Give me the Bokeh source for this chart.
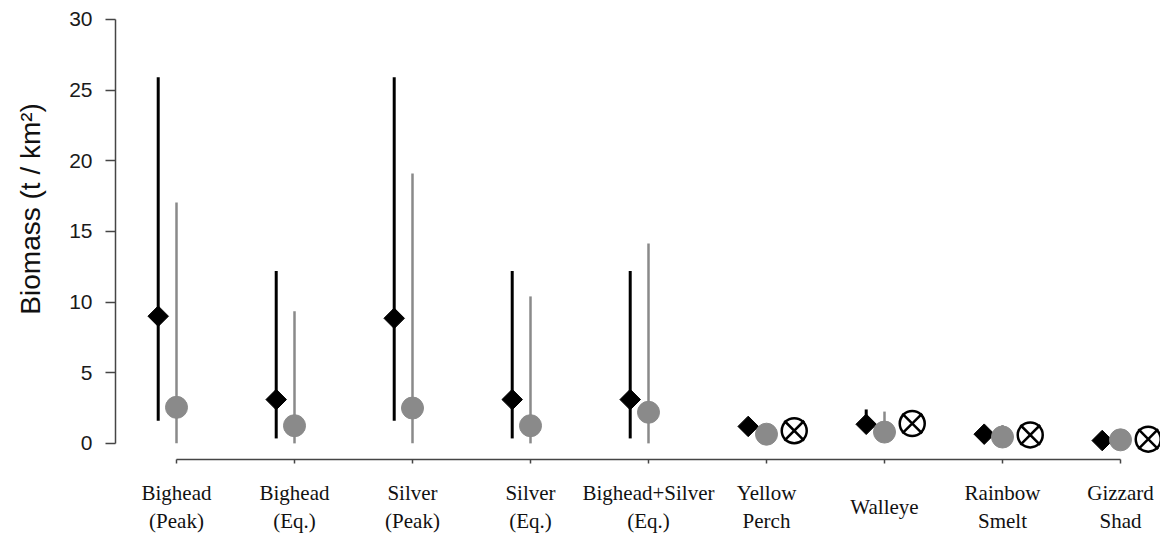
import numpy as np
from bokeh.plotting import figure
from bokeh.models import ColumnDataSource, FixedTicker, Range1d
from bokeh.core.properties import value
from bokeh.transform import dodge
from bokeh.embed import file_html
from bokeh.resources import INLINE

# ---- data ----
categories = ["Bighead (Peak)", "Bighead (Eq.)", "Silver (Peak)", "Silver (Eq.)",
              "Bighead+Silver (Eq.)", "Yellow Perch", "Walleye", "Rainbow Smelt", "Gizzard Shad"]
tick_labels = ["Bighead\n(Peak)", "Bighead\n(Eq.)", "Silver\n(Peak)", "Silver\n(Eq.)",
               "Bighead+Silver\n(Eq.)", "Yellow\nPerch", "Walleye", "Rainbow\nSmelt", "Gizzard\nShad"]

black_val = [9.0, 3.1, 8.85, 3.1, 3.1, 1.2, 1.35, 0.65, 0.2]
black_lo = [1.6, 0.35, 1.6, 0.35, 0.35, 1.2, 1.0, 0.65, 0.2]
black_hi = [25.9, 12.2, 25.9, 12.2, 12.2, 1.2, 2.4, 0.65, 0.2]

gray_val = [2.55, 1.25, 2.5, 1.25, 2.2, 0.65, 0.8, 0.45, 0.25]
gray_lo = [0.0, 0.0, 0.0, 0.0, 0.0, 0.65, 0.8, 0.45, 0.25]
gray_hi = [17.05, 9.35, 19.1, 10.4, 14.15, 0.65, 2.25, 1.3, 0.25]

xc_cats = ["Yellow Perch", "Walleye", "Rainbow Smelt", "Gizzard Shad"]
xc_val = [0.9, 1.4, 0.6, 0.3]

y_ticks = [0, 5, 10, 15, 20, 25, 30]

# ---- layout / style constants ----
BLACK_OFF = -0.155
GRAY_OFF = 0.0
XC_OFF = 0.235
X_START, X_END = -0.517, 8.339
Y_START, Y_END = -6.59, 30.42
X_AXIS_AT = -1.15
LABEL_Y = -4.5
GRAY = "#8a8a8a"
AXIS = "#454545"

idx = list(range(len(categories)))
src = ColumnDataSource(dict(x=idx, bv=black_val, blo=black_lo, bhi=black_hi,
                            gv=gray_val, glo=gray_lo, ghi=gray_hi,
                            lab=tick_labels, ly=[LABEL_Y] * len(idx)))
xc_src = ColumnDataSource(dict(x=[categories.index(c) for c in xc_cats], v=xc_val))

p = figure(width=1160, height=536, output_backend="svg", toolbar_location=None,
           x_range=Range1d(X_START, X_END), y_range=Range1d(Y_START, Y_END),
           min_border_left=115, min_border_right=0, min_border_top=13, min_border_bottom=0)
p.outline_line_color = None
p.grid.grid_line_color = None
p.background_fill_color = "white"

# error lines
p.segment(x0=dodge("x", BLACK_OFF), y0="blo", x1=dodge("x", BLACK_OFF), y1="bhi",
          source=src, line_color="black", line_width=3)
p.segment(x0=dodge("x", GRAY_OFF), y0="glo", x1=dodge("x", GRAY_OFF), y1="ghi",
          source=src, line_color=GRAY, line_width=2.5)

# markers
p.scatter(x=dodge("x", BLACK_OFF), y="bv", source=src, marker="square", angle=np.pi / 4,
          size=14.5, fill_color="black", line_color="black")
p.scatter(x=dodge("x", GRAY_OFF), y="gv", source=src, marker="circle",
          size=22, fill_color=GRAY, line_color=GRAY)
p.scatter(x=dodge("x", XC_OFF), y="v", source=xc_src, marker="circle",
          size=25, fill_color=None, line_color="black", line_width=2.5)
p.scatter(x=dodge("x", XC_OFF), y="v", source=xc_src, marker="x",
          size=28, line_color="black", line_width=2.5)

# category labels
p.text(x="x", y="ly", text="lab", source=src, text_align="center", text_baseline="middle",
       text_font=value("Liberation Serif"), text_font_size="21px", text_color="#111111",
       text_line_height=1.2)

# x axis
xa = p.xaxis[0]
xa.fixed_location = X_AXIS_AT
xa.ticker = FixedTicker(ticks=idx)
xa.bounds = (0, len(categories) - 1)
xa.major_label_overrides = {i: "" for i in idx}
xa.major_label_standoff = 0
xa.major_tick_out = 4
xa.major_tick_in = 0
xa.minor_tick_line_color = None
xa.axis_line_color = AXIS
xa.axis_line_width = 1.5
xa.major_tick_line_color = AXIS
xa.major_tick_line_width = 1.5

# y axis
ya = p.yaxis[0]
ya.ticker = FixedTicker(ticks=y_ticks)
ya.bounds = (0, 30)
ya.major_tick_out = 10
ya.major_tick_in = 0
ya.minor_tick_line_color = None
ya.axis_line_color = AXIS
ya.axis_line_width = 1.5
ya.major_tick_line_color = AXIS
ya.major_tick_line_width = 1.5
ya.major_label_text_font = "Liberation Sans"
ya.major_label_text_font_size = "21px"
ya.major_label_text_color = "#1a1a1a"
ya.major_label_standoff = 13
ya.axis_label = "\u00a0" * 17 + "Biomass (t / km\u00b2)"
ya.axis_label_text_font = "Liberation Sans"
ya.axis_label_text_font_size = "28px"
ya.axis_label_text_font_style = "normal"
ya.axis_label_text_color = "#111111"
ya.axis_label_standoff = 20

open("out.html", "w").write(file_html(p, INLINE))
